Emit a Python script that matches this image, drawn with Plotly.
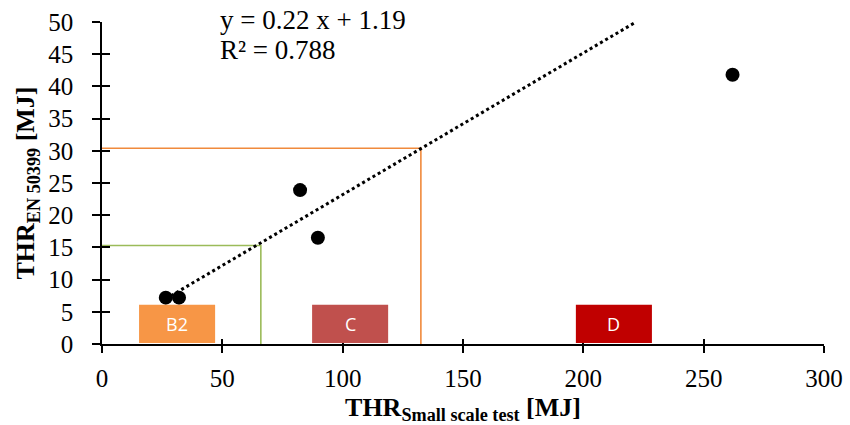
import plotly.graph_objects as go

# data
thr_small = [26.5, 32.0, 82.3, 89.7, 262.0]
thr_en = [7.2, 7.2, 23.9, 16.5, 41.8]
slope, intercept = 0.22, 1.19
r2 = 0.788
trend_x = [min(thr_small), (50 - intercept) / slope]

guide_green = (66.0, 15.3)
guide_orange = (132.5, 30.4)

classes = ["B2", "C", "D"]
class_x0 = [15.4, 87.3, 196.9]
class_x1 = [47.0, 118.9, 228.5]
class_y = [0.15, 6.1]
class_colors = ["#F79646", "#C0504D", "#C00000"]

x_ticks = [0, 50, 100, 150, 200, 250, 300]
y_ticks = [0, 5, 10, 15, 20, 25, 30, 35, 40, 45, 50]

serif = "Liberation Serif"

fig = go.Figure()

# guide lines
for (gx, gy), col in [(guide_green, "#9BBB59"), (guide_orange, "#F08A3C")]:
    fig.add_trace(go.Scatter(x=[0, gx, gx], y=[gy, gy, 0], mode="lines",
                             line=dict(color=col, width=1.6), hoverinfo="skip",
                             showlegend=False))

# trendline
fig.add_trace(go.Scatter(x=trend_x, y=[slope * v + intercept for v in trend_x],
                         mode="lines", line=dict(color="black", width=3, dash="dot"),
                         showlegend=False))

# points
fig.add_trace(go.Scatter(x=thr_small, y=thr_en, mode="markers",
                         marker=dict(color="black", size=14, symbol="circle"),
                         showlegend=False))

# class boxes
for name, x0, x1, col in zip(classes, class_x0, class_x1, class_colors):
    fig.add_shape(type="rect", x0=x0, x1=x1, y0=class_y[0], y1=class_y[1],
                  fillcolor=col, line=dict(width=0), layer="above")
    fig.add_annotation(x=(x0 + x1) / 2, y=(class_y[0] + class_y[1]) / 2, text=name,
                       showarrow=False, font=dict(family="Open Sans", size=18, color="white"))

# equation
for txt, py in [(f"y = {slope} x + {intercept}", 1.006), (f"R² = {r2}", 0.913)]:
    fig.add_annotation(xref="paper", yref="paper", x=0.161, y=py, xanchor="left",
                       yanchor="middle", text=txt, showarrow=False,
                       font=dict(family=serif, size=27, color="black"))

# invisible trace for overlay axes (inner half of crossing ticks)
fig.add_trace(go.Scatter(x=[0], y=[0], xaxis="x2", yaxis="y2", mode="markers",
                         marker=dict(opacity=0), hoverinfo="skip", showlegend=False))

fig.update_layout(
    width=850, height=425,
    margin=dict(l=102, r=26, t=22, b=81, autoexpand=False),
    plot_bgcolor="white", paper_bgcolor="white",
    xaxis=dict(range=[0, 300], tickvals=x_ticks, showgrid=False, zeroline=False,
               showline=True, linecolor="black", linewidth=1.5, automargin=False,
               ticks="outside", ticklen=7, tickwidth=1.5, tickcolor="black",
               ticklabelstandoff=4,
               tickfont=dict(family=serif, size=25, color="black"),
               title=dict(text="<b>THR<sub>Small scale test</sub> [MJ]</b>",
                          font=dict(family=serif, size=26, color="black"), standoff=8)),
    yaxis=dict(range=[0, 50], tickvals=y_ticks, showgrid=False, zeroline=False,
               showline=True, linecolor="black", linewidth=1.5, automargin=False,
               ticks="outside", ticklen=8, tickwidth=1.5, tickcolor="black",
               ticklabelstandoff=14,
               tickfont=dict(family=serif, size=25, color="black"),
               title=dict(text="<b>THR<sub>EN 50399</sub> [MJ]</b>",
                          font=dict(family=serif, size=26, color="black"), standoff=6)),
    xaxis2=dict(range=[0, 300], tickvals=x_ticks, overlaying="x", showgrid=False,
                zeroline=False, showticklabels=False, side="bottom", anchor="y2",
                automargin=False,
                ticks="inside", ticklen=5, tickwidth=1.5, tickcolor="black"),
    yaxis2=dict(range=[0, 50], tickvals=y_ticks, overlaying="y", showgrid=False,
                zeroline=False, showticklabels=False, side="left", anchor="x2",
                automargin=False,
                ticks="inside", ticklen=8, tickwidth=1.5, tickcolor="black"),
)

fig.write_html("out.html")
